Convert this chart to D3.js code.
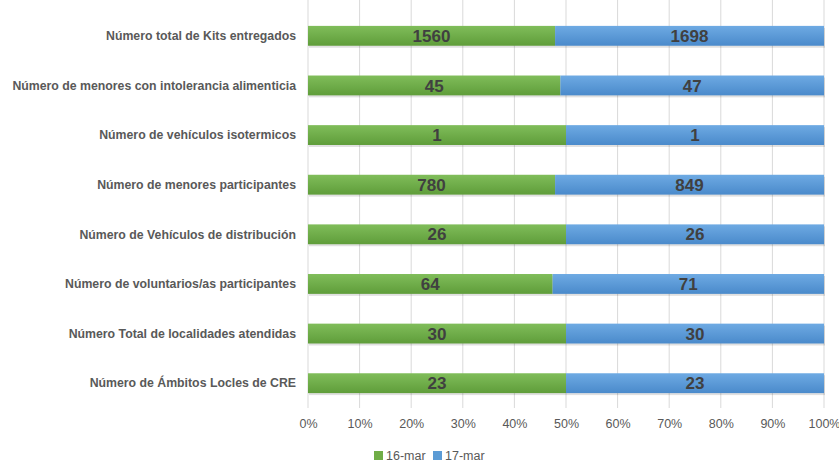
<!DOCTYPE html>
<html>
<head>
<meta charset="utf-8">
<script src="https://cdn.jsdelivr.net/npm/d3@7"></script>
<style>
  body { margin: 0; background: #fff; }
  text { font-family: "Liberation Sans", Arial, sans-serif; }
</style>
</head>
<body>
<svg id="chart"></svg>
<script>
    var categories = [
        "Número total de Kits entregados",
        "Número de menores con intolerancia alimenticia",
        "Número de vehículos isotermicos",
        "Número de menores participantes",
        "Número de Vehículos de distribución",
        "Número de voluntarios/as participantes",
        "Número Total de localidades atendidas",
        "Número de Ámbitos Locles de CRE"
    ];
    var seriesNames = ["16-mar", "17-mar"];
    var mar16 = [1560, 45, 1, 780, 26, 64, 30, 23];
    var mar17 = [1698, 47, 1, 849, 26, 71, 30, 23];
    var tickValues = [0, 0.1, 0.2, 0.3, 0.4, 0.5, 0.6, 0.7, 0.8, 0.9, 1];

    var width = 839, height = 462;
    var plotLeft = 308, plotRight = 824, plotTop = 11, plotBottom = 408;

    var svg = d3.select("#chart")
        .attr("width", width)
        .attr("height", height);

    var defs = svg.append("defs");
    function grad(id, c1, c2) {
        var g = defs.append("linearGradient").attr("id", id)
            .attr("x1", 0).attr("y1", 0).attr("x2", 0).attr("y2", 1);
        g.append("stop").attr("offset", "0%").attr("stop-color", c1);
        g.append("stop").attr("offset", "100%").attr("stop-color", c2);
    }
    grad("g16", "#80bd5a", "#5f9d3a");
    grad("g17", "#6eaae3", "#4a8acb");

    var x = d3.scaleLinear().domain([0, 1]).range([plotLeft, plotRight]);
    var y = d3.scaleBand().domain(categories).range([plotTop, plotBottom])
        .paddingInner(0.6).paddingOuter(0.3);

    // gridlines
    svg.append("g").selectAll("line")
        .data(tickValues)
        .join("line")
        .attr("x1", d => x(d)).attr("x2", d => x(d))
        .attr("y1", 0).attr("y2", plotBottom)
        .attr("stroke", "#d9d9d9").attr("stroke-width", 1);

    // axis
    var axis = svg.append("g")
        .attr("transform", "translate(0," + plotBottom + ")")
        .call(d3.axisBottom(x).tickValues(tickValues).tickFormat(d3.format(".0%")).tickSize(0).tickPadding(11));
    axis.select(".domain").remove();
    axis.selectAll("text")
        .attr("fill", "#595959")
        .style("font-size", "12.5px")
        .style("font-family", "'Liberation Sans', Arial, sans-serif");

    var rows = categories.map((c, i) => {
        var t = mar16[i] + mar17[i];
        return { cat: c, a: mar16[i], b: mar17[i], pa: mar16[i] / t };
    });

    // category labels
    svg.append("g").selectAll("text")
        .data(rows)
        .join("text")
        .attr("x", plotLeft - 12)
        .attr("y", d => y(d.cat) + y.bandwidth() / 2)
        .attr("dy", "0.35em")
        .attr("text-anchor", "end")
        .attr("fill", "#595959")
        .style("font-size", "12.3px")
        .style("font-weight", "bold")
        .text(d => d.cat);

    var barG = svg.append("g");
    // shadow
    barG.selectAll("rect.sh")
        .data(rows)
        .join("rect")
        .attr("class", "sh")
        .attr("x", x(0) + 1)
        .attr("y", d => y(d.cat) + 2)
        .attr("width", x(1) - x(0))
        .attr("height", y.bandwidth())
        .attr("fill", "#000")
        .attr("fill-opacity", 0.12);

    barG.selectAll("rect.a")
        .data(rows)
        .join("rect")
        .attr("class", "a")
        .attr("x", x(0))
        .attr("y", d => y(d.cat))
        .attr("width", d => x(d.pa) - x(0))
        .attr("height", y.bandwidth())
        .attr("fill", "url(#g16)");

    barG.selectAll("rect.b")
        .data(rows)
        .join("rect")
        .attr("class", "b")
        .attr("x", d => x(d.pa))
        .attr("y", d => y(d.cat))
        .attr("width", d => x(1) - x(d.pa))
        .attr("height", y.bandwidth())
        .attr("fill", "url(#g17)");

    // value labels
    var lab = svg.append("g")
        .attr("fill", "#404040")
        .style("font-size", "17px")
        .style("font-weight", "bold")
        .attr("text-anchor", "middle");
    lab.selectAll("text.a")
        .data(rows)
        .join("text")
        .attr("class", "a")
        .attr("x", d => x(d.pa / 2))
        .attr("y", d => y(d.cat) + y.bandwidth() / 2)
        .attr("dy", "0.36em")
        .text(d => d.a);
    lab.selectAll("text.b")
        .data(rows)
        .join("text")
        .attr("class", "b")
        .attr("x", d => x((d.pa + 1) / 2))
        .attr("y", d => y(d.cat) + y.bandwidth() / 2)
        .attr("dy", "0.36em")
        .text(d => d.b);

    // legend
    var legendX = [374, 433];
    var leg = svg.append("g").selectAll("g")
        .data(seriesNames)
        .join("g")
        .attr("transform", (d, i) => "translate(" + legendX[i] + ",451)");
    leg.append("rect")
        .attr("width", 9).attr("height", 9)
        .attr("fill", (d, i) => i == 0 ? "#70ad47" : "#5b9bd5");
    leg.append("text")
        .attr("x", 12).attr("y", 5).attr("dy", "0.35em")
        .attr("fill", "#595959")
        .style("font-size", "12.5px")
        .text(d => d);
</script>
</body>
</html>
